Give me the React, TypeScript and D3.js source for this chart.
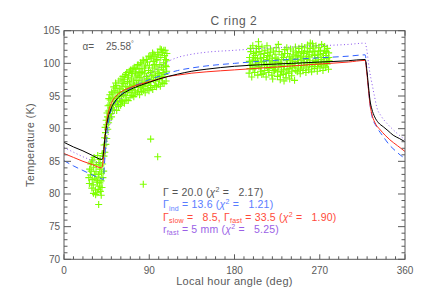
import React from 'react';
import * as d3 from 'd3';

// model curves: [local hour angle (deg), temperature (K)]
const modelSingle: [number, number][] = [[0,87.9],[10,87.2],[20,86.6],[30,85.9],[40,85.3],[41,85.6],[42,86.8],[43,88.3],[44,89.5],[46,91.3],[48,92.4],[50,93.2],[55,94.4],[60,95.1],[70,96.0],[80,96.6],[90,97.1],[100,97.6],[110,98.0],[120,98.35],[135,98.8],[150,99.1],[180,99.55],[210,99.8],[240,100.0],[270,100.2],[300,100.4],[318,100.6],[319.5,99.2],[321.5,96.4],[323,94.4],[325,93.0],[328,91.8],[332,90.9],[337,90.3],[342,89.7],[347.5,89.0],[354,88.5],[360,88.0]];
const modelInd: [number, number][] = [[0,85.1],[10,84.3],[20,83.6],[30,82.9],[40,82.3],[41.5,82.2],[42.5,84.0],[43.5,86.5],[44.5,88.3],[46,90.2],[48,91.9],[50,92.9],[55,94.3],[60,95.2],[70,96.2],[80,96.9],[90,97.5],[100,98.0],[110,98.5],[120,98.9],[135,99.3],[150,99.6],[180,100.0],[210,100.35],[240,100.6],[270,100.85],[300,101.1],[318,101.3],[319.5,99.5],[321.5,96.0],[323,93.8],[325,92.0],[330,90.3],[337,88.8],[343,87.6],[350,86.6],[357.5,85.7],[360,85.5]];
const modelTwo: [number, number][] = [[0,86.2],[10,85.6],[20,85.0],[30,84.5],[39.5,84.0],[41,84.6],[42,86.2],[43,88.2],[44,89.8],[46,91.9],[48,93.1],[50,93.9],[55,95.0],[60,95.6],[70,96.3],[80,96.8],[90,97.2],[100,97.6],[110,98.0],[120,98.2],[135,98.5],[150,98.7],[180,99.0],[210,99.3],[240,99.6],[270,99.9],[300,100.2],[318,100.45],[319.5,98.8],[321.5,95.9],[323,93.8],[324.7,92.4],[328,91.0],[334,89.8],[339,89.0],[344,88.3],[352,87.4],[360,86.5]];
const modelRfast: [number, number][] = [[0,87.1],[10,86.4],[20,85.7],[30,85.1],[40,84.5],[41,84.4],[42.5,85.0],[44,86.5],[46,88.5],[48,90.2],[50,91.5],[55,93.3],[60,94.5],[70,96.0],[80,97.2],[90,98.3],[100,99.3],[110,100.3],[120,100.9],[135,101.4],[150,101.7],[180,102.0],[210,102.3],[240,102.5],[270,102.7],[300,102.9],[318,103.1],[319.5,102.2],[321.5,100.0],[323,98.5],[325,97.0],[328,94.8],[330,93.4],[335,91.9],[341,90.8],[350,89.5],[360,88.3]];

// observed temperatures: [local hour angle (deg), temperature (K)]
const nightPoints: [number, number][] = [[26.2,82.5],[27.1,83.8],[26.8,81.6],[28.3,84.6],[27.9,82.9],[29.4,80.9],[28.7,83.5],[30.2,85.2],[29.8,82.2],[31.3,84.1],[30.9,81.4],[32.4,83.0],[31.8,85.6],[33.2,80.6],[32.7,82.4],[34.1,84.5],[33.8,83.4],[35.3,81.8],[34.9,80.2],[35.6,85.9],[36.2,83.0],[36.8,84.8],[37.3,81.2],[36.9,82.6],[38.1,85.3],[37.7,83.8],[38.4,80.4],[39.2,82.0],[38.9,84.3],[40.1,81.0],[39.6,83.2],[40.4,86.2],[41.1,82.5],[40.8,84.6],[41.9,83.5],[42.2,85.8],[33.4,79.9],[39.3,79.8],[31.1,80.1],[29.1,84.9],[34.6,82.1],[37.9,81.7],[36.1,80.7]];
const risePoints: [number, number][] = [[42.3,87.5],[43.1,86.4],[42.8,88.6],[43.4,90.2],[44.2,87.6],[43.8,89.4],[44.5,91.3],[45.1,88.5],[44.8,90.6],[45.4,92.4],[46.2,89.9],[45.9,91.8],[46.5,93.5],[47.1,90.9],[46.8,92.7],[47.3,94.6],[48.2,91.5],[47.9,93.6],[48.4,95.2],[49.1,92.3],[48.8,94.4],[50.2,91.8],[49.7,93.2],[50.4,95.6],[51.1,92.9],[50.8,94.8],[52.2,93.6],[51.7,95.3],[52.5,96.4],[53.1,92.8],[52.8,94.2],[54.2,93.9],[53.7,95.8],[54.4,97.0],[55.1,94.6],[54.8,96.2]];
const morningPoints: [number, number][] = [
  [55.6,92.8],[56.4,94.1],[56.9,95.5],[55.8,96.6],[57.2,93.7],[56.2,95.0],
  [57.7,93.4],[58.5,94.9],[59.1,96.1],[57.9,97.3],[58.8,95.6],[59.4,94.2],
  [59.8,93.6],[60.6,95.0],[61.2,96.4],[60.1,97.6],[60.9,94.3],[61.5,97.0],
  [61.7,94.1],[62.5,95.7],[63.1,96.9],[62.2,98.0],[62.9,95.2],[63.4,97.5],
  [63.8,93.9],[64.6,95.1],[65.2,96.5],[64.1,97.9],[64.9,98.3],[65.4,95.9],
  [65.7,94.5],[66.5,96.0],[67.1,97.2],[66.2,98.6],[66.9,95.6],[67.4,97.8],
  [67.8,94.3],[68.6,95.9],[69.2,97.0],[68.1,98.1],[68.9,98.8],[69.5,96.5],
  [69.7,94.8],[70.5,96.3],[71.1,97.6],[70.2,99.0],[70.9,95.5],[71.4,98.4],
  [71.8,95.1],[72.6,96.0],[73.2,97.3],[72.1,98.5],[72.9,99.2],[73.5,96.8],
  [73.7,94.9],[74.5,96.6],[75.1,97.9],[74.2,99.4],[74.9,95.8],[75.4,98.7],
  [75.8,95.3],[76.6,96.8],[77.2,98.2],[76.1,99.1],[76.9,97.4],[77.5,99.7],
  [77.7,95.6],[78.5,97.0],[79.1,98.5],[78.2,99.8],[78.9,96.3],[79.4,97.9],
  [79.8,95.2],[80.6,96.4],[81.2,97.8],[80.1,99.2],[80.9,100.1],[81.5,98.6],
  [81.7,95.7],[82.5,97.3],[83.1,98.7],[82.2,99.9],[82.9,96.6],[83.4,100.5],
  [83.8,95.9],[84.6,97.1],[85.2,98.4],[84.1,100.4],[84.9,99.3],[85.5,96.5],
  [85.7,95.5],[86.5,96.9],[87.1,98.0],[86.2,99.6],[86.9,100.6],[87.4,97.6],
  [87.8,96.1],[88.6,97.6],[89.2,98.9],[88.1,100.2],[88.9,97.0],[89.5,101.1],
  [89.7,95.8],[90.5,97.2],[91.1,98.6],[90.2,99.7],[90.9,101.0],[91.4,96.6],
  [91.8,96.3],[92.6,97.9],[93.2,99.3],[92.1,100.8],[92.9,98.2],[93.5,101.6],
  [93.7,96.0],[94.5,97.5],[95.1,98.8],[94.2,100.3],[94.9,101.4],[95.4,99.8],
  [95.8,96.6],[96.6,98.1],[97.2,99.6],[96.1,101.1],[96.9,97.3],[97.5,100.5],
  [97.7,96.4],[98.5,97.8],[99.1,99.1],[98.2,100.6],[98.9,101.7],[99.4,98.5],
  [99.8,96.8],[100.6,98.4],[101.2,99.8],[100.1,101.3],[100.9,97.5],[101.5,102.2],
  [101.7,96.5],[102.5,98.0],[103.1,99.4],[102.2,100.9],[102.9,102.1],[103.4,97.8],
  [103.8,97.1],[104.6,98.6],[105.2,100.1],[104.1,101.6],[104.9,99.0],[105.4,102.0],
  [105.7,96.9],[106.5,98.3],[107.1,99.7],[106.2,101.2],[106.9,102.0],[107.4,100.6],
  [107.8,97.3],[108.4,98.8],[108.1,100.4],[108.6,101.5],[107.9,99.5]];
const afternoonPoints: [number, number][] = [
  [195.4,98.5],[196.8,99.7],[195.9,100.9],[197.2,101.8],[196.3,99.2],[195.7,100.3],[197.0,102.3],
  [198.2,97.9],[199.6,99.1],[198.8,100.5],[200.1,101.5],[199.3,102.7],[198.5,99.8],[200.0,100.9],
  [201.3,98.6],[202.7,99.9],[201.8,101.2],[203.1,102.3],[202.2,100.4],[201.5,99.3],[202.9,101.7],
  [204.6,98.2],[205.8,99.5],[204.2,100.7],[205.3,103.3],[206.0,101.8],[204.9,100.1],[205.5,102.6],
  [207.4,98.8],[208.6,100.2],[207.8,101.4],[209.0,102.5],[208.2,99.4],[207.2,100.8],[208.8,98.3],
  [210.3,98.4],[211.7,99.7],[210.8,100.9],[212.1,102.0],[211.3,101.5],[210.5,100.3],[211.9,98.9],
  [213.4,97.9],[214.8,99.3],[213.9,100.6],[215.1,101.7],[214.3,102.7],[213.6,99.9],[215.0,101.2],
  [216.2,98.6],[217.6,99.9],[216.7,101.1],[218.0,102.2],[217.3,100.4],[216.5,99.2],[217.8,101.7],
  [219.4,98.2],[220.7,99.5],[219.9,100.8],[221.1,101.9],[220.3,97.6],[219.6,100.2],[220.9,98.9],
  [222.3,98.9],[223.6,100.2],[222.8,101.4],[224.0,102.4],[223.2,99.1],[222.5,99.7],[223.9,100.8],
  [225.4,98.0],[226.8,99.4],[225.9,100.6],[227.1,101.8],[226.3,102.9],[225.6,98.7],[226.9,100.1],
  [228.3,97.5],[229.7,98.8],[228.8,100.0],[230.0,101.3],[229.2,99.7],[228.5,98.2],[229.9,100.6],
  [231.4,98.3],[232.7,99.6],[231.8,100.9],[233.1,102.1],[232.3,97.3],[231.6,99.0],[232.9,101.5],
  [234.3,97.8],[235.6,99.1],[234.8,100.4],[236.0,101.5],[235.2,102.4],[234.5,98.5],[235.9,100.0],
  [237.4,98.5],[238.8,99.8],[237.9,101.0],[239.1,102.2],[238.3,97.6],[237.6,99.2],[238.9,100.5],
  [240.3,98.1],[241.6,99.4],[240.8,100.7],[242.0,101.9],[241.2,100.0],[240.5,98.8],[241.9,101.3],
  [243.4,97.4],[244.7,98.9],[243.9,100.3],[245.1,101.6],[244.3,102.5],[243.6,99.6],[244.9,101.0],
  [246.3,98.7],[247.6,100.0],[246.8,101.2],[248.0,102.3],[247.2,99.3],[246.5,100.6],[247.9,101.8],
  [249.4,98.4],[250.7,99.7],[249.9,101.0],[251.1,102.6],[250.3,100.5],[249.6,99.1],[250.9,101.7],
  [252.3,98.9],[253.6,100.2],[252.8,101.5],[254.0,102.4],[253.2,99.6],[252.5,100.8],[253.9,101.9],
  [255.4,98.6],[256.7,99.9],[255.9,101.1],[257.1,102.8],[256.3,100.6],[255.6,99.3],[256.9,101.8],
  [258.3,99.0],[259.6,100.4],[258.8,101.7],[260.0,103.1],[259.2,99.8],[258.5,101.0],[259.9,102.3],
  [261.4,98.7],[262.7,100.1],[261.9,101.3],[263.1,102.5],[262.3,103.0],[261.6,99.5],[262.9,101.9],
  [264.3,99.2],[265.6,100.5],[264.8,101.8],[266.0,102.7],[265.2,99.9],[264.5,101.2],[265.9,100.3],
  [267.4,98.8],[268.7,100.0],[267.9,101.4],[269.1,102.4],[268.3,100.9],[267.6,99.5],[268.9,101.9],
  [270.3,99.3],[271.6,100.6],[270.8,101.9],[272.0,102.9],[271.2,100.2],[270.5,101.3],[271.9,99.8],
  [273.4,98.9],[274.7,100.3],[273.9,101.5],[275.1,102.6],[274.3,99.6],[273.6,100.9],[274.9,102.0],
  [276.3,99.4],[277.6,100.7],[276.8,101.8],[278.0,102.3],[277.2,100.1],[276.5,101.2],[277.9,99.9],
  [279.2,99.1],[279.8,100.4],[279.4,101.6],[279.6,100.9]];
const outlierPoints: [number, number][] = [[91.5,88.4],[98.9,85.7],[83.7,81.5],[36.6,78.4]];

const xTicks = [0, 90, 180, 270, 360];
const yTicks = [70, 75, 80, 85, 90, 95, 100, 105];

const W = 427, H = 305;
const M = { left: 64, right: 405, top: 30.7, bottom: 259.3 };
const FONT = 'Liberation Sans, Arial, sans-serif';
const AXIS = '#5a5a5a';

export default function App() {
  const x = d3.scaleLinear().domain([0, 360]).range([M.left, M.right]);
  const y = d3.scaleLinear().domain([70, 105]).range([M.bottom, M.top]);
  const line = d3.line<[number, number]>().x(d => x(d[0])).y(d => y(d[1])).curve(d3.curveMonotoneX);

  const xMinor = d3.range(0, 361, 10);
  const yMinor = d3.range(70, 106, 1);
  const pts = [...nightPoints, ...risePoints, ...morningPoints, ...afternoonPoints, ...outlierPoints];

  const sub = (s: string) => <tspan fontSize={7} dy={2.5}>{s}</tspan>;
  const back = (s: string) => <tspan dy={-2.5}>{s}</tspan>;
  const chi = (after: string) => (
    <>
      <tspan fontStyle="italic">{'\u03c7'}</tspan>
      <tspan fontSize={7} dy={-4}>2</tspan>
      <tspan dy={4}>{after}</tspan>
    </>
  );

  return (
    <svg width={W} height={H} style={{ position: 'absolute', left: 0, top: 0 }} fontFamily={FONT}>
      <rect width={W} height={H} fill="#fff" />
      {/* data */}
      <g stroke="#7fff00" strokeWidth={1.1}>
        {pts.map((p, i) => {
          const cx = x(p[0]), cy = y(p[1]);
          return <path key={i} d={`M${cx - 3.5},${cy}H${cx + 3.5}M${cx},${cy - 3.5}V${cy + 3.5}`} />;
        })}
      </g>
      {/* models */}
      <g fill="none" strokeWidth={1}>
        <path d={line(modelRfast) || ''} stroke="#8a55ee" strokeDasharray="1,2.5" />
        <path d={line(modelInd) || ''} stroke="#3060ff" strokeDasharray="6,4" />
        <path d={line(modelTwo) || ''} stroke="#ff2a1a" />
        <path d={line(modelSingle) || ''} stroke="#000" />
      </g>
      {/* frame and ticks */}
      <rect x={M.left} y={M.top} width={M.right - M.left} height={M.bottom - M.top} fill="none" stroke={AXIS} />
      <g stroke={AXIS}>
        {xMinor.map(v => {
          const len = v % 90 === 0 ? 5 : 3;
          return (
            <g key={'x' + v}>
              <line x1={x(v)} x2={x(v)} y1={M.bottom} y2={M.bottom - len} />
              <line x1={x(v)} x2={x(v)} y1={M.top} y2={M.top + len} />
            </g>
          );
        })}
        {yMinor.map(v => {
          const len = v % 5 === 0 ? 7 : 3.5;
          return (
            <g key={'y' + v}>
              <line x1={M.left} x2={M.left + len} y1={y(v)} y2={y(v)} />
              <line x1={M.right} x2={M.right - len} y1={y(v)} y2={y(v)} />
            </g>
          );
        })}
      </g>
      <g fill={AXIS} fontSize={10}>
        {xTicks.map(v => (
          <text key={v} x={x(v)} y={274} textAnchor="middle">{v}</text>
        ))}
        {yTicks.map(v => (
          <text key={v} x={M.left - 4} y={y(v) + 3.5} textAnchor="end">{v}</text>
        ))}
      </g>
      <text x={234} y={25} textAnchor="middle" fontSize={12} fill={AXIS} letterSpacing={0.6}>C ring 2</text>
      <text x={234.5} y={285} textAnchor="middle" fontSize={11} fill={AXIS} letterSpacing={0.3}>Local hour angle (deg)</text>
      <text transform={`translate(34,${(M.top + M.bottom) / 2}) rotate(-90)`} textAnchor="middle" fontSize={11} fill={AXIS} letterSpacing={0.3}>Temperature (K)</text>
      <text x={82.5} y={50} fontSize={10} fill={AXIS}>{'\u03b1='}</text>
      <text x={106} y={50} fontSize={10} fill={AXIS}>
        25.58<tspan fontSize={7} dy={-4}>{'\u00b0'}</tspan>
      </text>
      {/* legend */}
      <g fontSize={10.5} letterSpacing={0.2}>
        <text x={163} y={196} fill="#555" xmlSpace="preserve">
          {'\u0393 = 20.0 ('}{chi(' =   2.17)')}
        </text>
        <text x={163} y={208.3} fill="#5a7cff" xmlSpace="preserve">
          {'\u0393'}{sub('ind')}{back(' = 13.6 (')}{chi(' =   1.21)')}
        </text>
        <text x={163} y={220.6} fill="#ff4a3a" xmlSpace="preserve">
          {'\u0393'}{sub('slow')}{back(' =   8.5, \u0393')}{sub('fast')}{back(' = 33.5 (')}{chi(' =   1.90)')}
        </text>
        <text x={163} y={232.9} fill="#9a5fe6" xmlSpace="preserve">
          {'r'}{sub('fast')}{back(' = 5 mm (')}{chi(' =   5.25)')}
        </text>
      </g>
    </svg>
  );
}
